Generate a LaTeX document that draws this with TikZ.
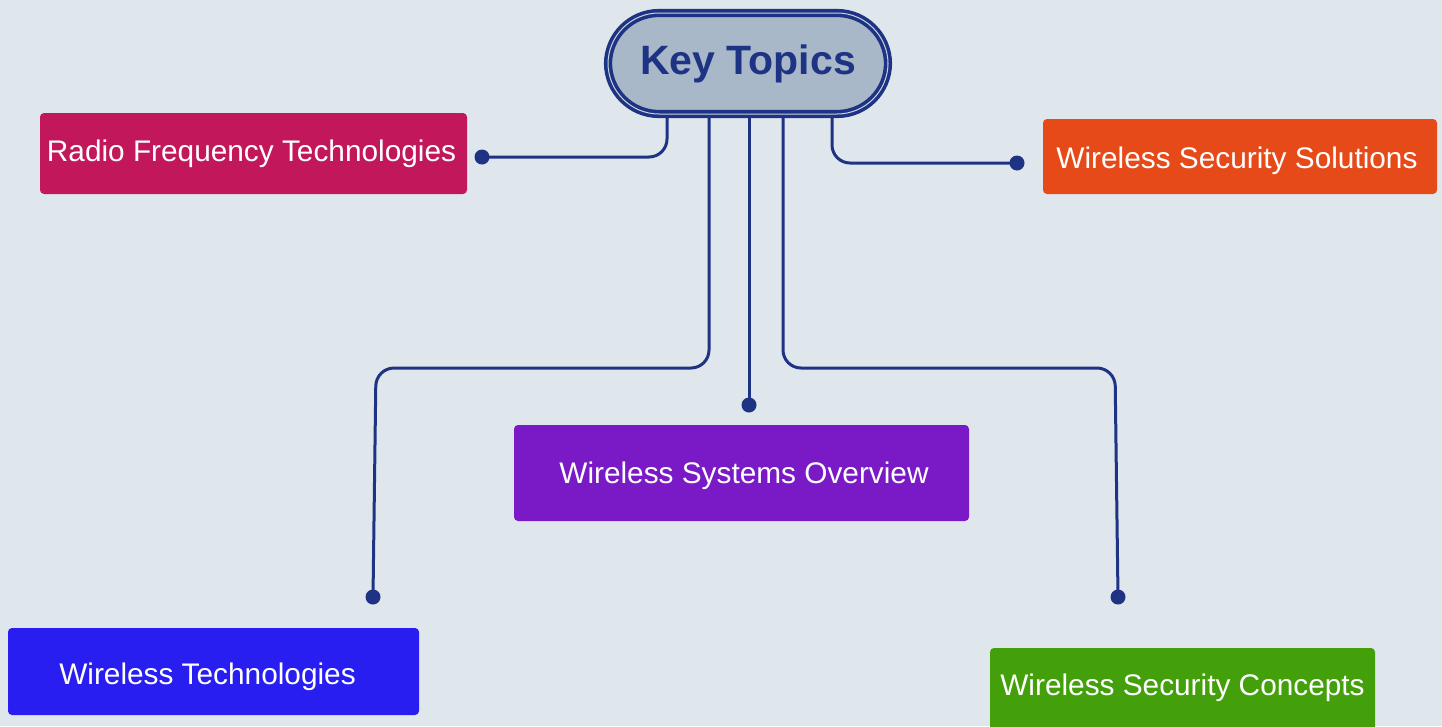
\documentclass[tikz,border=0pt]{standalone}
\usepackage{fontspec}
\setmainfont{Liberation Sans}
\definecolor{bg}{HTML}{DFE7ED}
\definecolor{navy}{HTML}{1F3385}
\definecolor{keyfill}{HTML}{A8B8C8}
\definecolor{keyline}{HTML}{C9D4DF}
\definecolor{rfc}{HTML}{C2185B}
\definecolor{wssc}{HTML}{E64A19}
\definecolor{wtc}{HTML}{281EF0}
\definecolor{wsoc}{HTML}{7A19C6}
\definecolor{wscc}{HTML}{43A00A}
\tikzset{
  topicfont/.style={font=\fontsize{29.8}{34}\selectfont},
  topiclabel/.style={text=white, topicfont, inner sep=0pt},
  topicbox/.style={rectangle, rounded corners=4pt, draw=none, inner sep=0pt},
  keybox/.style={rectangle, rounded corners=51pt, draw=navy, double=keyline,
    double distance=1pt, line width=3.6pt, fill=keyfill, text=navy,
    font=\fontsize{41}{46}\selectfont\bfseries, inner sep=0pt,
    minimum width=280pt, minimum height=101pt},
  conn/.style={draw=navy, line width=3pt, rounded corners=18pt},
  enddot/.style={fill=navy, draw=none}
}
\begin{document}
\begin{tikzpicture}[x=1pt,y=-1pt]
\fill[bg] (0,0) rectangle (1442,726);
\useasboundingbox (0,0) rectangle (1442,726);

% dot coordinates and bends
\coordinate (rfdot) at (482,157);
\coordinate (wssdot) at (1017,163);
\coordinate (wtbend) at (376,368);
\coordinate (wtdot) at (373,597);
\coordinate (wsodot) at (749,405);
\coordinate (wscbend) at (1115,368);
\coordinate (wscdot) at (1118,597);

% connectors (drawn before the key so the key covers their start)
\coordinate (kc) at (748,63.5);
\draw[conn] ([xshift=-81pt]kc) |- (rfdot);
\draw[conn] ([xshift=84pt]kc) |- (wssdot);
\draw[conn] ([xshift=-39pt]kc) |- (wtbend) -- (wtdot);
\draw[conn] ([xshift=1pt]kc) -- (wsodot);
\draw[conn] ([xshift=35pt]kc) |- (wscbend) -- (wscdot);

\foreach \d in {rfdot,wssdot,wtdot,wsodot,wscdot}
  \fill[enddot] (\d) circle (7.5pt);

% central node
\node[keybox] (key) at (kc) {Key Topics};

% topic boxes
\node[topicbox, fill=rfc, minimum width=427pt, minimum height=81pt,
  label={[topiclabel, xshift=-2pt]center:Radio Frequency Technologies}]
  (rf) at (253.5,153.5) {};
\node[topicbox, fill=wssc, minimum width=394pt, minimum height=75pt,
  label={[topiclabel, xshift=-3pt, yshift=-4pt]center:Wireless Security Solutions}]
  (wss) at (1240,156.5) {};
\node[topicbox, fill=wtc, minimum width=411pt, minimum height=87pt,
  label={[topiclabel, xshift=-6pt, yshift=-5pt]center:Wireless Technologies}]
  (wt) at (213.5,671.5) {};
\node[topicbox, fill=wsoc, minimum width=455pt, minimum height=96pt,
  label={[topiclabel, xshift=2.5pt, yshift=-3pt]center:Wireless Systems Overview}]
  (wso) at (741.5,473) {};
\node[topicbox, fill=wscc, minimum width=385pt, minimum height=100pt,
  label={[topiclabel, yshift=10pt]center:Wireless Security Concepts}]
  (wsc) at (1182.5,698) {};
\end{tikzpicture}
\end{document}
